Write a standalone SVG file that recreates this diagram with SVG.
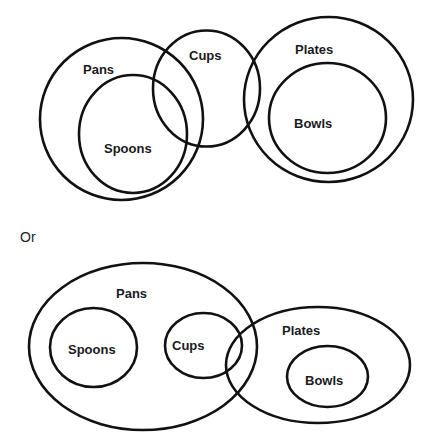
<svg xmlns="http://www.w3.org/2000/svg" width="428" height="447" viewBox="0 0 428 447">
<style>
.s{fill:none;stroke:#111;stroke-width:2.6}
.t{font-family:"Liberation Sans",Arial,sans-serif;font-size:13px;font-weight:bold;fill:#1a1a22}
.o{font-family:"Liberation Sans",Arial,sans-serif;font-size:14px;fill:#222}
</style>
<rect width="428" height="447" fill="#fff"/>
<g id="top">
<g id="top-pans"><ellipse class="s" cx="121.5" cy="119" rx="81.5" ry="81"/><text class="t" x="83" y="74">Pans</text></g>
<g id="top-spoons"><ellipse class="s" cx="133" cy="134" rx="54" ry="59"/><text class="t" x="104" y="153">Spoons</text></g>
<g id="top-cups"><ellipse class="s" cx="206.5" cy="88.5" rx="53.5" ry="58"/><text class="t" x="189" y="60">Cups</text></g>
<g id="top-plates"><ellipse class="s" cx="328.5" cy="99.5" rx="84.5" ry="82.5"/><text class="t" x="295" y="54">Plates</text></g>
<g id="top-bowls"><ellipse class="s" cx="327.5" cy="118" rx="58.5" ry="55"/><text class="t" x="294" y="128">Bowls</text></g>
</g>
<text class="o" x="20" y="242">Or</text>
<g id="bottom">
<g id="bot-pans"><ellipse class="s" cx="143" cy="346.5" rx="114" ry="83.5"/><text class="t" x="116" y="298">Pans</text></g>
<g id="bot-spoons"><ellipse class="s" cx="93.5" cy="347.5" rx="43.5" ry="39.5"/><text class="t" x="68" y="354">Spoons</text></g>
<g id="bot-cups"><ellipse class="s" cx="203.5" cy="345.5" rx="38.5" ry="32.5"/><text class="t" x="172" y="350">Cups</text></g>
<g id="bot-plates"><ellipse class="s" cx="318" cy="365" rx="92" ry="58"/><text class="t" x="282" y="335">Plates</text></g>
<g id="bot-bowls"><ellipse class="s" cx="327.5" cy="376.5" rx="40.5" ry="30.5"/><text class="t" x="305" y="385">Bowls</text></g>
</g>
</svg>
